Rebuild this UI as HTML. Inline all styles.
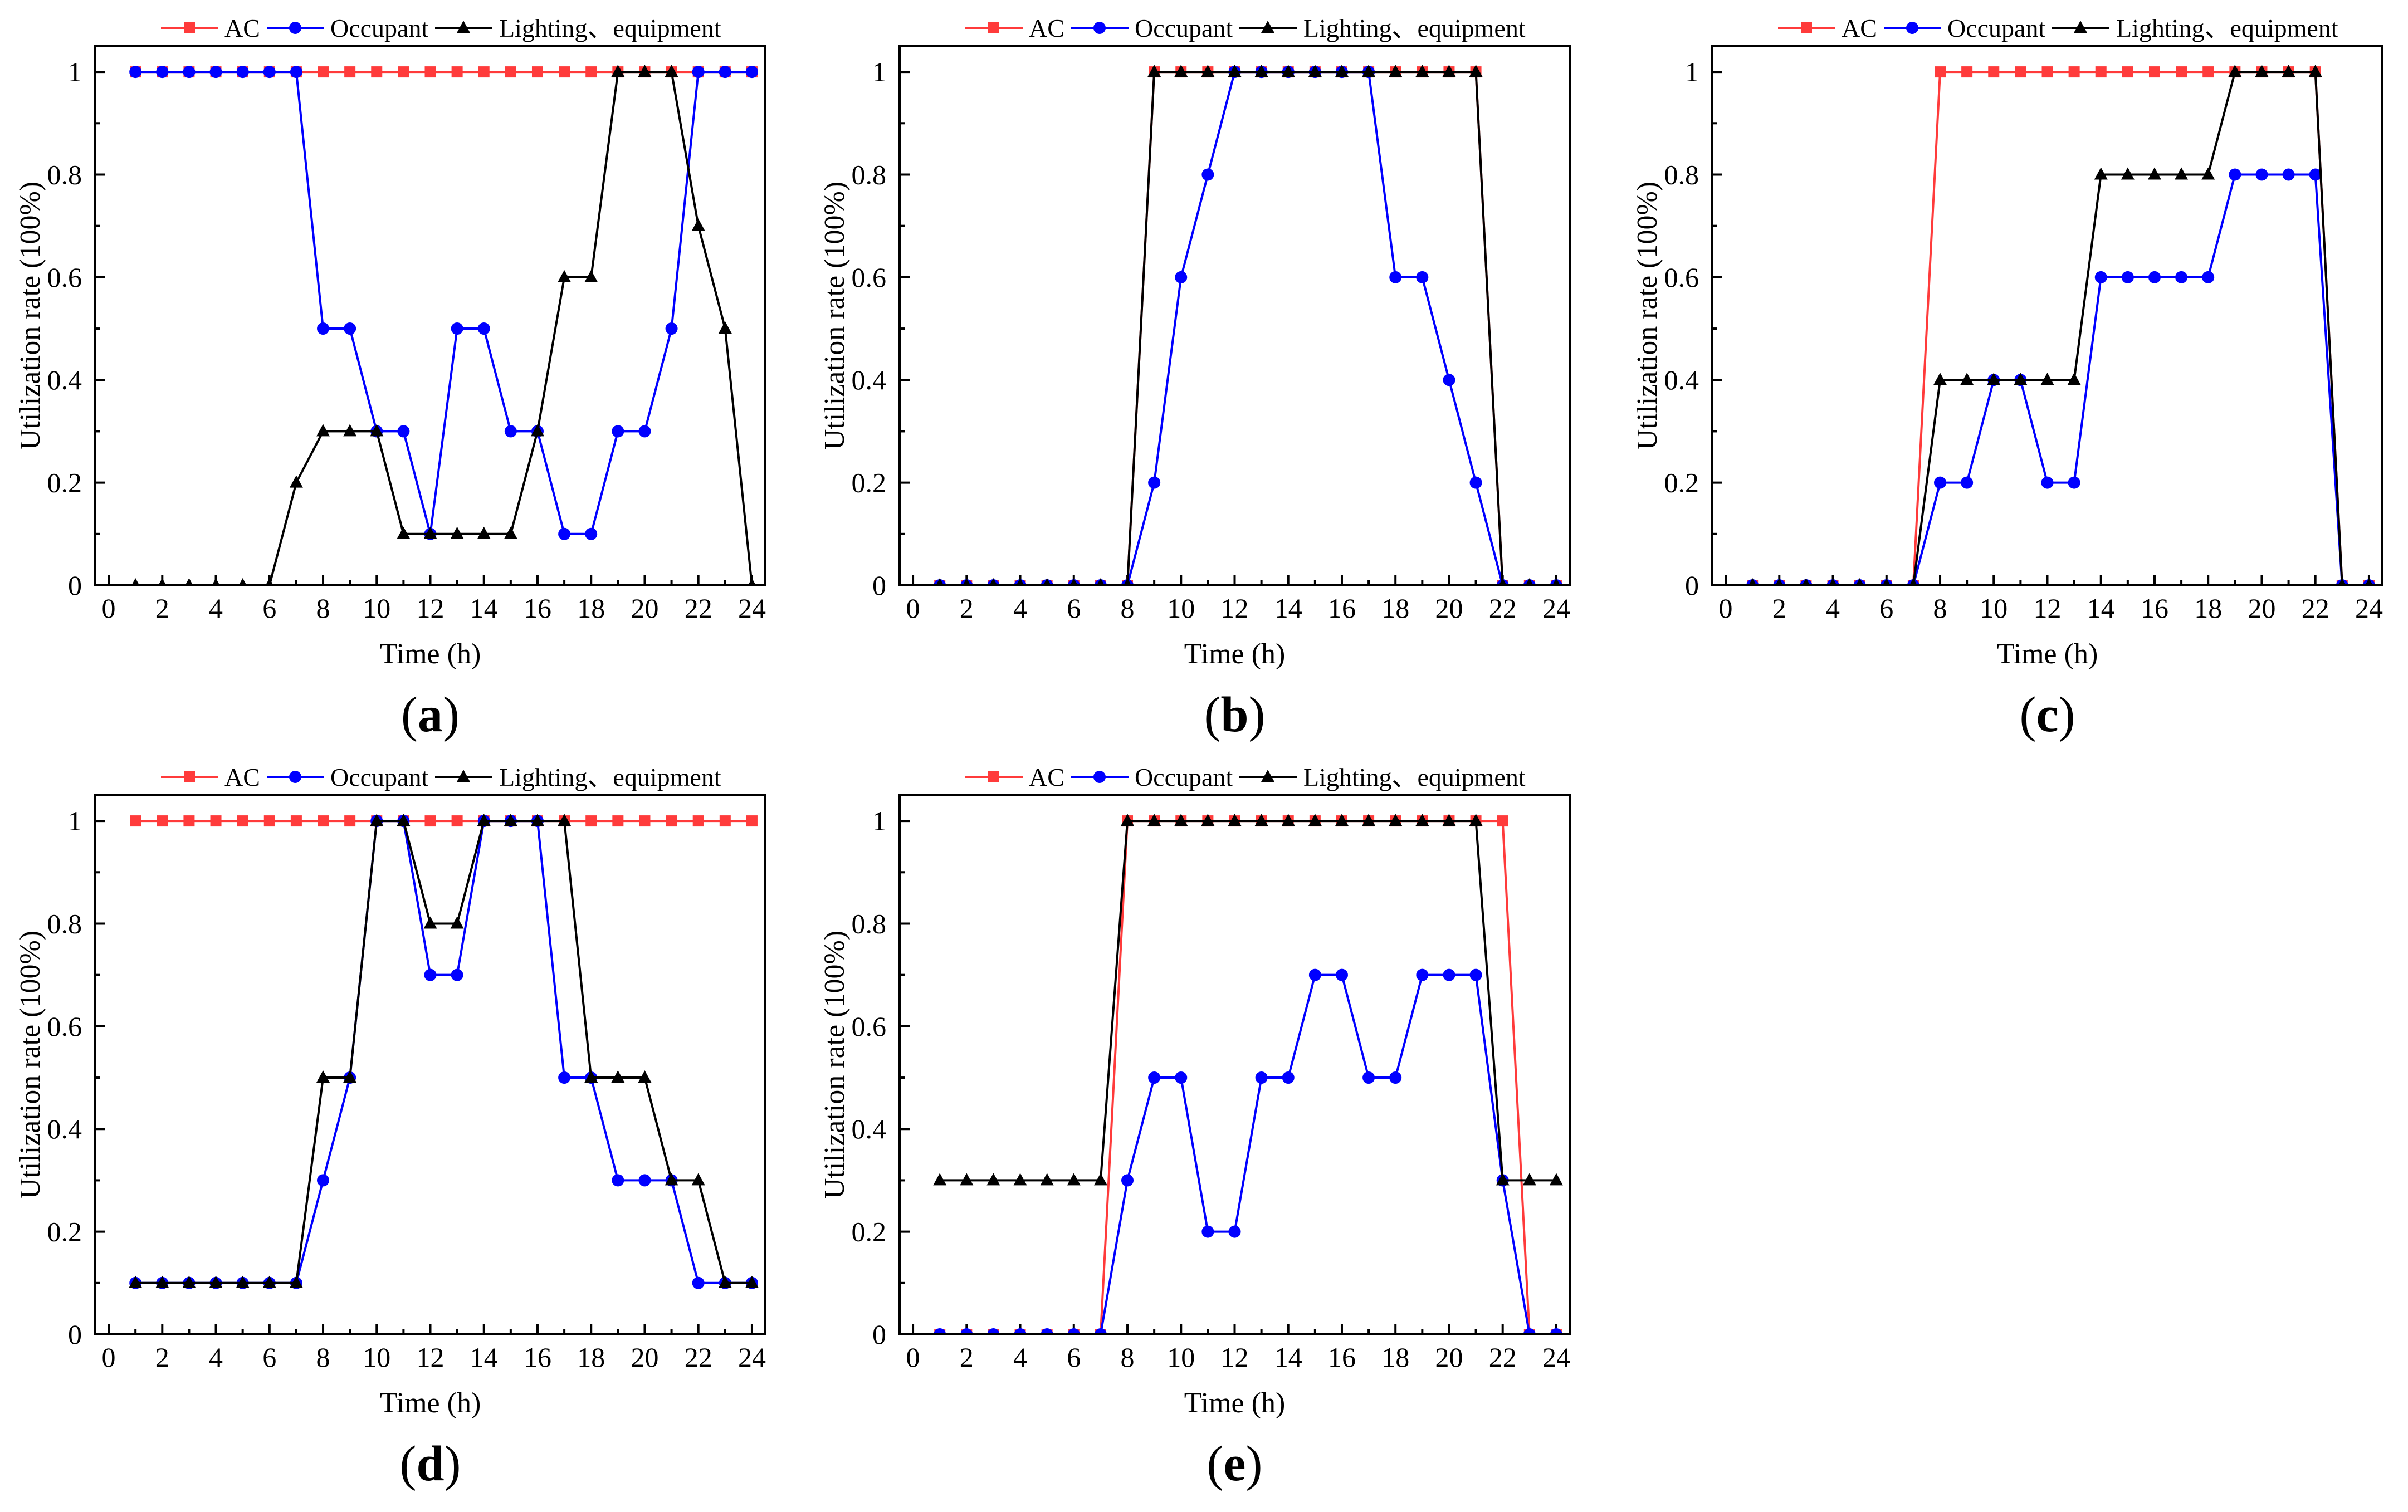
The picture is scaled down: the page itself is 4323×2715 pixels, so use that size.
<!DOCTYPE html>
<html><head><meta charset="utf-8">
<style>
html,body{margin:0;padding:0;background:#fff;}
svg{display:block;font-family:"Liberation Serif","Times New Roman",serif;}
</style></head>
<body>
<svg id="fig" width="4323" height="2715" viewBox="0 0 4323 2715" xmlns="http://www.w3.org/2000/svg"></svg>
<script>
const hours = [1,2,3,4,5,6,7,8,9,10,11,12,13,14,15,16,17,18,19,20,21,22,23,24];
const xTicks = [0,2,4,6,8,10,12,14,16,18,20,22,24];
const yTicks = [0,0.2,0.4,0.6,0.8,1];
const yTickLabels = ["0","0.2","0.4","0.6","0.8","1"];
const panelLabels = ["(a)","(b)","(c)","(d)","(e)"];

const acA  = [1,1,1,1,1,1,1,1,1,1,1,1,1,1,1,1,1,1,1,1,1,1,1,1];
const occA = [1,1,1,1,1,1,1,0.5,0.5,0.3,0.3,0.1,0.5,0.5,0.3,0.3,0.1,0.1,0.3,0.3,0.5,1,1,1];
const litA = [0,0,0,0,0,0,0.2,0.3,0.3,0.3,0.1,0.1,0.1,0.1,0.1,0.3,0.6,0.6,1,1,1,0.7,0.5,0];

const acB  = [0,0,0,0,0,0,0,0,1,1,1,1,1,1,1,1,1,1,1,1,1,0,0,0];
const occB = [0,0,0,0,0,0,0,0,0.2,0.6,0.8,1,1,1,1,1,1,0.6,0.6,0.4,0.2,0,0,0];
const litB = [0,0,0,0,0,0,0,0,1,1,1,1,1,1,1,1,1,1,1,1,1,0,0,0];

const acC  = [0,0,0,0,0,0,0,1,1,1,1,1,1,1,1,1,1,1,1,1,1,1,0,0];
const occC = [0,0,0,0,0,0,0,0.2,0.2,0.4,0.4,0.2,0.2,0.6,0.6,0.6,0.6,0.6,0.8,0.8,0.8,0.8,0,0];
const litC = [0,0,0,0,0,0,0,0.4,0.4,0.4,0.4,0.4,0.4,0.8,0.8,0.8,0.8,0.8,1,1,1,1,0,0];

const acD  = [1,1,1,1,1,1,1,1,1,1,1,1,1,1,1,1,1,1,1,1,1,1,1,1];
const occD = [0.1,0.1,0.1,0.1,0.1,0.1,0.1,0.3,0.5,1,1,0.7,0.7,1,1,1,0.5,0.5,0.3,0.3,0.3,0.1,0.1,0.1];
const litD = [0.1,0.1,0.1,0.1,0.1,0.1,0.1,0.5,0.5,1,1,0.8,0.8,1,1,1,1,0.5,0.5,0.5,0.3,0.3,0.1,0.1];

const acE  = [0,0,0,0,0,0,0,1,1,1,1,1,1,1,1,1,1,1,1,1,1,1,0,0];
const occE = [0,0,0,0,0,0,0,0.3,0.5,0.5,0.2,0.2,0.5,0.5,0.7,0.7,0.5,0.5,0.7,0.7,0.7,0.3,0,0];
const litE = [0.3,0.3,0.3,0.3,0.3,0.3,0.3,1,1,1,1,1,1,1,1,1,1,1,1,1,1,0.3,0.3,0.3];

const seriesSets = [[acA,occA,litA],[acB,occB,litB],[acC,occC,litC],[acD,occD,litD],[acE,occE,litE]];

const NS = "http://www.w3.org/2000/svg";
const svg = document.getElementById("fig");
const RED = "#ff3b3b", BLUE = "#0000ff", BLACK = "#000";
const origins = [[171,83],[1615,83],[3074,83],[171,1428],[1615,1428]];
const W = 1203, H = 968, XMIN = -0.5, XMAX = 24.5, YMIN = 0, YMAX = 1.05;

function mk(tag, attrs, parent){
  const e = document.createElementNS(NS, tag);
  for (const k in attrs) e.setAttribute(k, attrs[k]);
  (parent||svg).appendChild(e);
  return e;
}
function marker(g, kind, cx, cy, color){
  let m;
  if (kind === 0){
    m = mk("rect",{x:cx-10,y:cy-10,width:20,height:20,fill:color},g);
  } else if (kind === 1){
    m = mk("circle",{cx:cx,cy:cy,r:11,fill:color},g);
  } else {
    m = mk("polygon",{points:`${cx},${cy-13} ${cx-12},${cy+9} ${cx+12},${cy+9}`,fill:color},g);
  }
  return m;
}

const colors = [RED, BLUE, BLACK];
const names = ["AC","Occupant","Lighting、equipment"];
const seriesNames = ["ac","occupant","lighting-equipment"];

origins.forEach((o,pi)=>{
  const [L,T] = o;
  const sx = v => L + (v - XMIN) / (XMAX - XMIN) * W;
  const sy = v => T + H - (v - YMIN) / (YMAX - YMIN) * H;
  const panel = mk("g",{});
  
  

  const clipId = "clip"+pi;
  const cp = mk("clipPath",{id:clipId},panel);
  mk("rect",{x:L,y:T,width:W,height:H},cp);

  const tg = mk("g",{stroke:BLACK,"stroke-width":4},panel);
  
  
  for (let h=0; h<=24; h++){
    const len = (h%2===0)?18:9;
    mk("line",{x1:sx(h),x2:sx(h),y1:T+H,y2:T+H-len},tg);
  }
  for (let i=0;i<=10;i++){
    const v = i/10;
    const len = (i%2===0)?18:9;
    mk("line",{x1:L,x2:L+len,y1:sy(v),y2:sy(v)},tg);
  }
  xTicks.forEach(t=>{
    const tx = mk("text",{x:sx(t),y:T+H+58,"font-size":50,"text-anchor":"middle",fill:BLACK},panel);
    tx.textContent = t;
    
    
  });
  yTicks.forEach((t,i)=>{
    const tx = mk("text",{x:L-24,y:sy(t)+17,"font-size":50,"text-anchor":"end",fill:BLACK},panel);
    tx.textContent = yTickLabels[i];
    
    
  });

  const dg = mk("g",{"clip-path":`url(#${clipId})`},panel);
  seriesSets[pi].forEach((vals,si)=>{
    const sg = mk("g",{},dg);
    
    
    const pts = hours.map((h,i)=>`${sx(h)},${sy(vals[i])}`).join(" ");
    mk("polyline",{points:pts,fill:"none",stroke:colors[si],"stroke-width":4,"stroke-linejoin":"round"},sg);
    hours.forEach((h,i)=>{
      const m = marker(sg, si, sx(h), sy(vals[i]), colors[si]);
      
      
    });
  });

  const fr = mk("rect",{x:L,y:T,width:W,height:H,fill:"none",stroke:BLACK,"stroke-width":4},panel);
  
  

  const lg = mk("g",{},panel);
  
  
  const ly = T - 33;
  const lineStarts = [118, 308, 610];
  const textStarts = [232, 422, 725];
  for (let si=0; si<3; si++){
    const ent = mk("g",{},lg);
    
    
    mk("line",{x1:L+lineStarts[si],x2:L+lineStarts[si]+103,y1:ly,y2:ly,stroke:colors[si],"stroke-width":4},ent);
    marker(ent, si, L+lineStarts[si]+51, ly, colors[si]);
    const tx = mk("text",{x:L+textStarts[si],y:ly+16,"font-size":46,fill:BLACK},ent);
    tx.textContent = names[si];
  }

  const xt = mk("text",{x:L+W/2,y:T+H+140,"font-size":52,"text-anchor":"middle",fill:BLACK},panel);
  xt.textContent = "Time (h)";
  
  
  const yx = L-100, yc = T+H/2;
  const yt = mk("text",{x:yx,y:yc,"font-size":52,"text-anchor":"middle",fill:BLACK,transform:`rotate(-90 ${yx} ${yc})`},panel);
  yt.textContent = "Utilization rate (100%)";
  
  

  const pl = mk("text",{x:L+W/2,y:T+H+262,"font-size":90,"text-anchor":"middle",fill:BLACK},panel);
  
  
  const t1 = mk("tspan",{},pl); t1.textContent="(";
  const t2 = mk("tspan",{"font-weight":"bold"},pl); t2.textContent=panelLabels[pi].slice(1,2);
  const t3 = mk("tspan",{},pl); t3.textContent=")";
});
</script>
</body></html>
